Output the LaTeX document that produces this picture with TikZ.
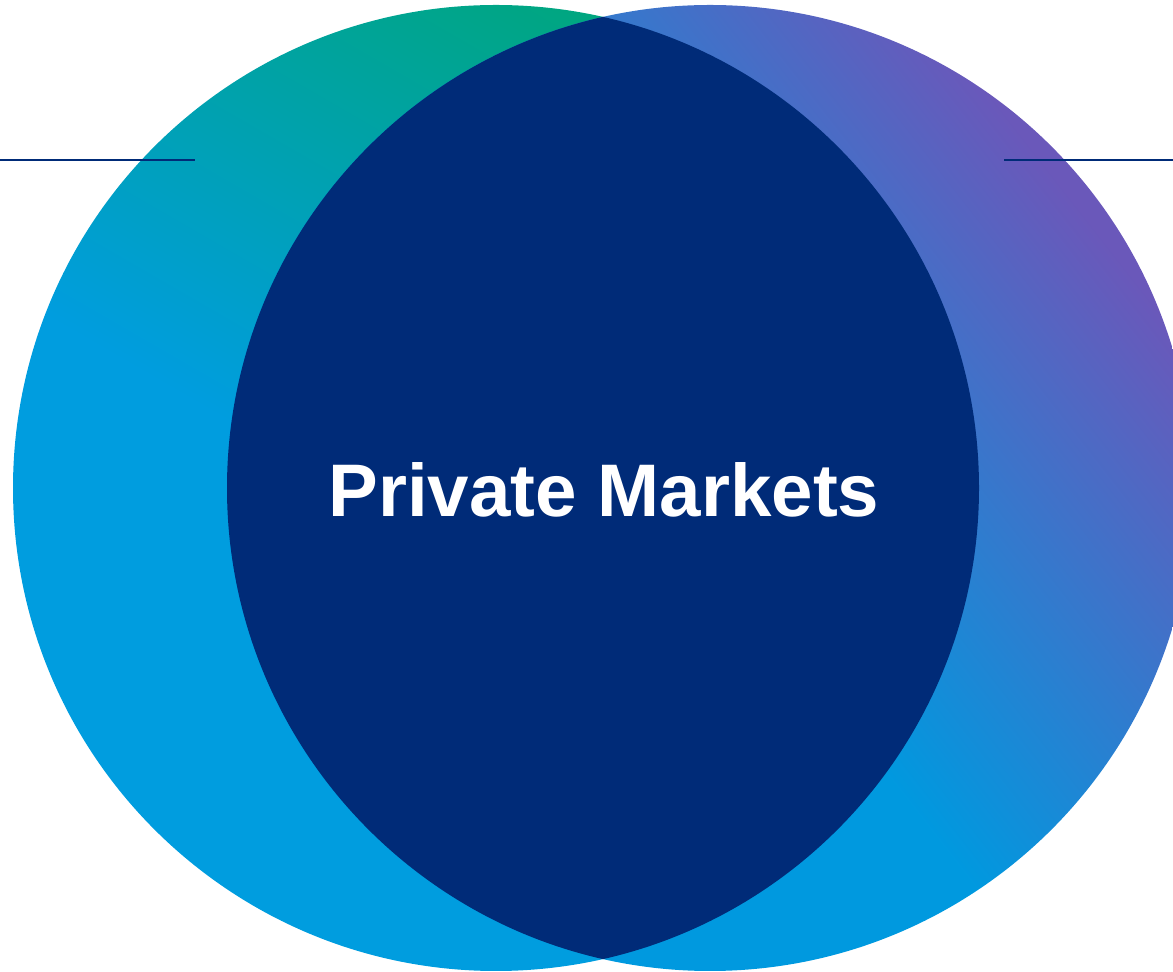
\documentclass[tikz,border=0pt]{standalone}
\usepackage{fontspec}
\setmainfont{Liberation Sans}
\definecolor{lgreen}{HTML}{00A67F}
\definecolor{lblue}{HTML}{009DDF}
\definecolor{rblue}{HTML}{0099DF}
\definecolor{rpurple}{HTML}{6A58BA}
\definecolor{navy}{HTML}{002B78}
\pgfdeclareverticalshading{leftsh}{100bp}{color(0bp)=(lblue); color(46bp)=(lblue); color(74bp)=(lgreen); color(100bp)=(lgreen)}
\pgfdeclareverticalshading{rightsh}{100bp}{color(0bp)=(rblue); color(48bp)=(rblue); color(74bp)=(rpurple); color(100bp)=(rpurple)}
\tikzset{
  rule/.style={draw=navy, line width=2.8pt},
  title/.style={text=white, font=\bfseries\fontsize{74.5}{80}\selectfont, inner sep=0pt}
}
\begin{document}
\begin{tikzpicture}[x=1pt,y=1pt]
\useasboundingbox (0,0) rectangle (1173,972);
\clip (0,0) rectangle (1173,972);
\coordinate (lc) at (496,484);
\coordinate (rc) at (710,484);
\shade[shading=leftsh, shading angle=-30] (lc) circle (483);
\shade[shading=rightsh, shading angle=-52] (rc) circle (483);
\begin{scope}
  \clip (lc) circle (483);
  \fill[navy] (rc) circle (483);
\end{scope}
\coordinate (l1) at (0,812);
\coordinate (l2) at (195,812);
\coordinate (r1) at (1004,812);
\coordinate (r2) at (1173,812);
\draw[rule] (l1) -- (l2);
\draw[rule] (r1) -- (r2);
\node[title, anchor=base] (t) at (604,455) {Private Markets};
\end{tikzpicture}
\end{document}
